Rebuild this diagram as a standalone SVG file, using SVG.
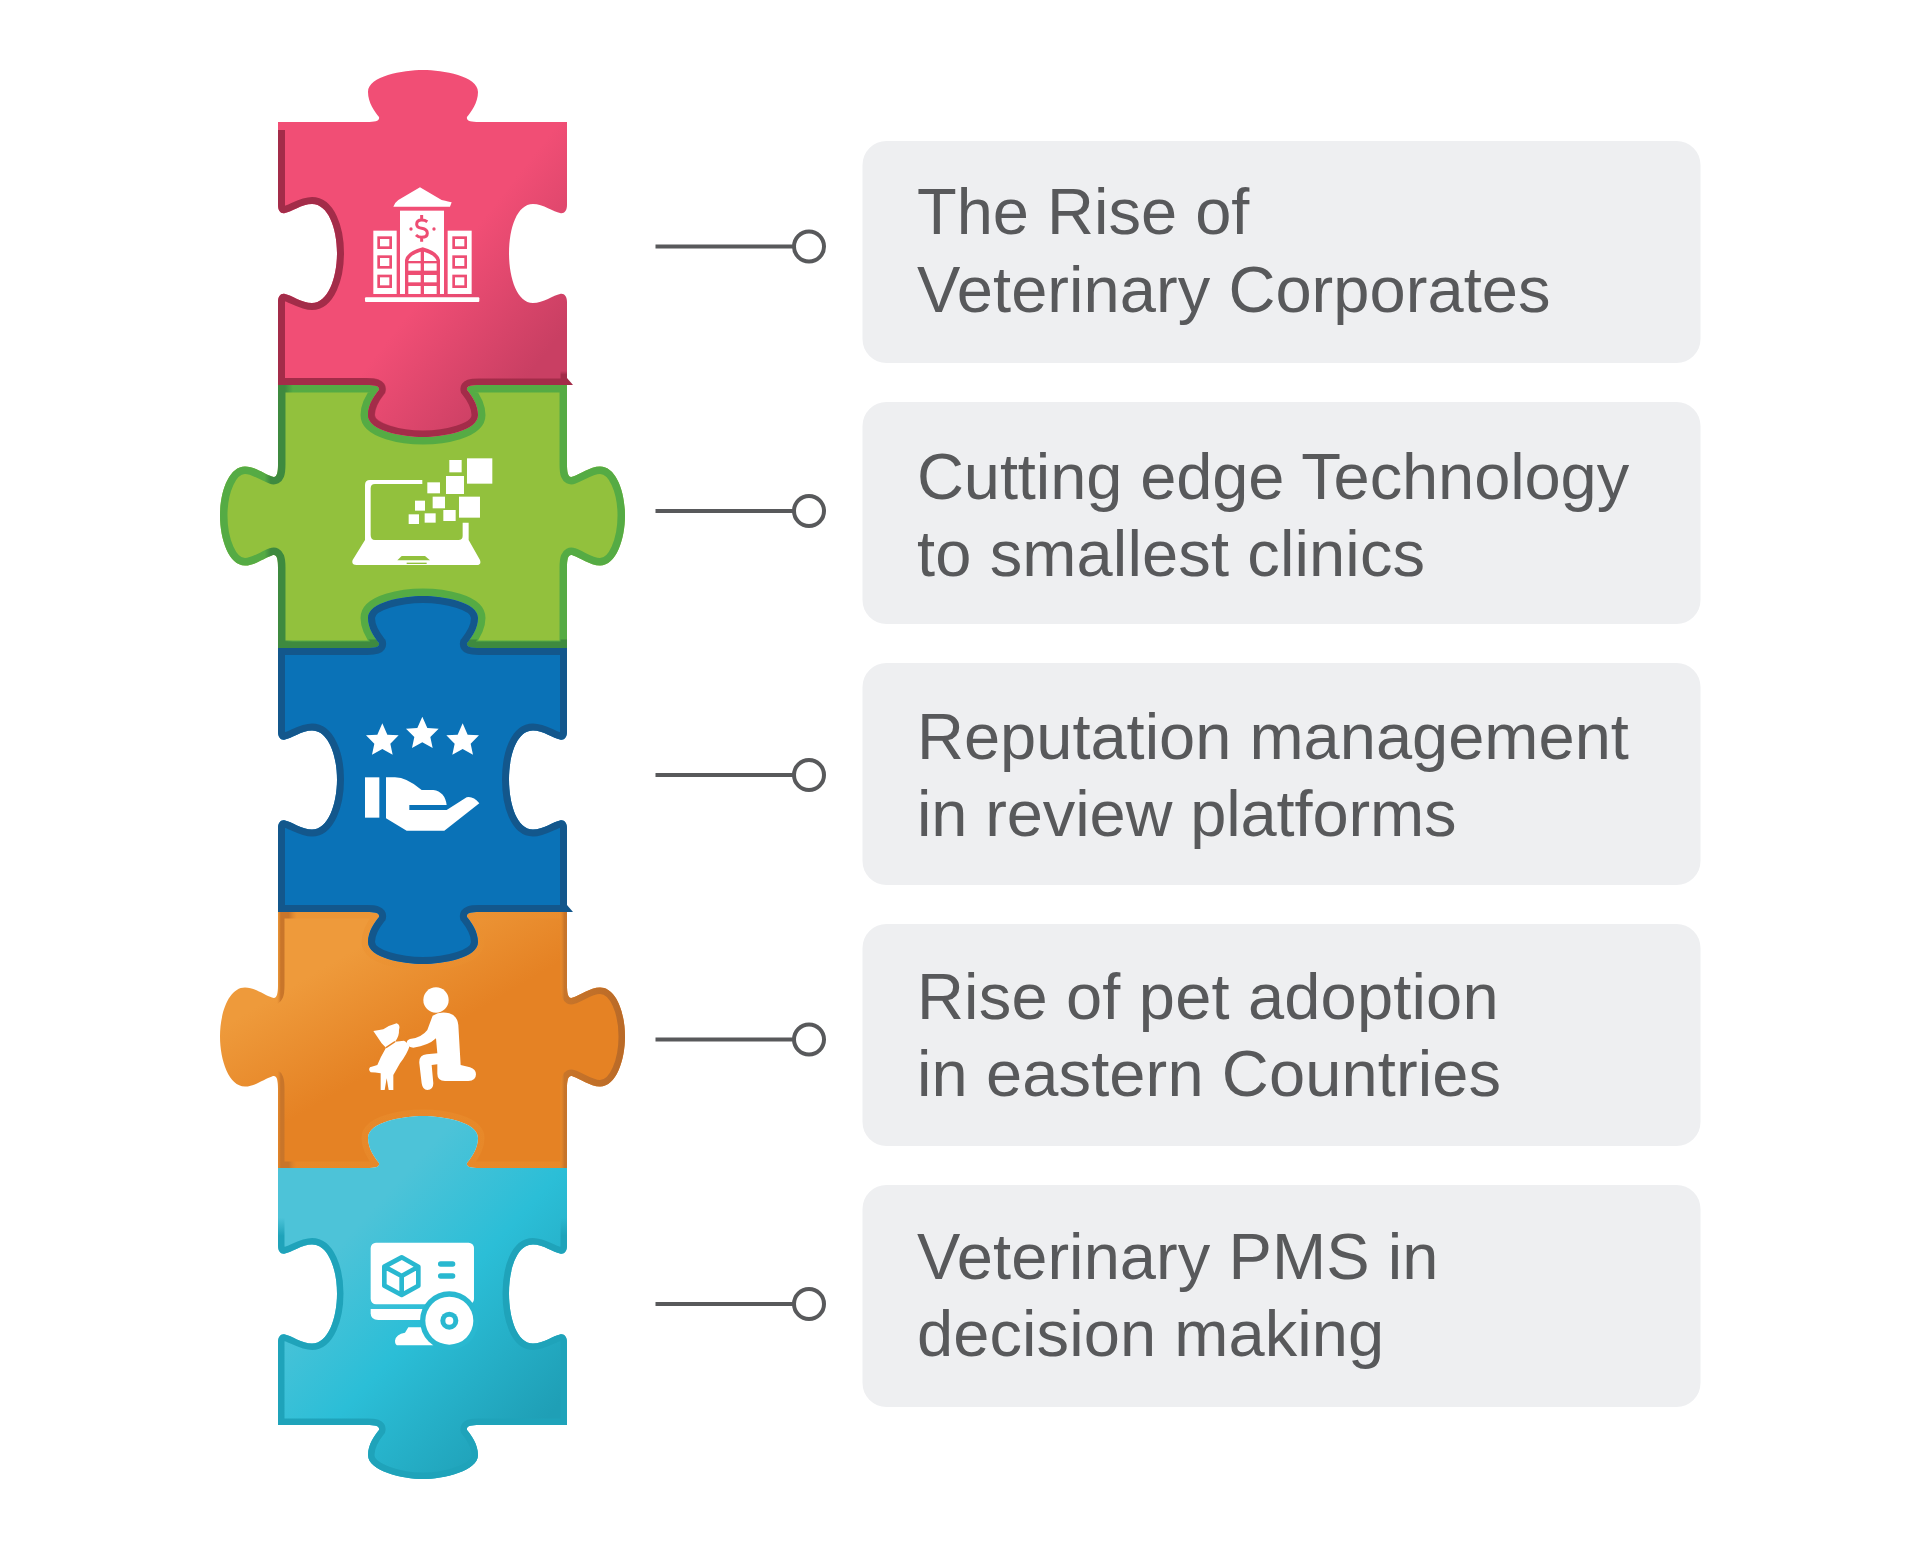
<svg xmlns="http://www.w3.org/2000/svg" width="1920" height="1548" viewBox="0 0 1920 1548">
<style>
.box{fill:#EEEFF1}
.lbl{font-family:"Liberation Sans",Arial,sans-serif;font-size:65px;fill:#58595B}
.ln{stroke:#58595B;stroke-width:4;fill:none}
.dot{stroke:#58595B;stroke-width:4;fill:#fff}
.w{fill:#fff}
</style>
<defs>
<linearGradient id="fPink" x1=".2" y1=".2" x2=".85" y2=".85"><stop offset=".55" stop-color="#F14E75"/><stop offset="1" stop-color="#C93F63"/></linearGradient>
<linearGradient id="sPinkH" x1="0" y1="0" x2="1" y2="0"><stop offset=".3" stop-color="#A32C49"/><stop offset=".42" stop-color="#A32C49" stop-opacity="0"/></linearGradient>
<linearGradient id="sPinkV" x1="0" y1="0" x2="0" y2="1"><stop offset=".82" stop-color="#A32C49" stop-opacity="0"/><stop offset=".83" stop-color="#A32C49"/></linearGradient>
<linearGradient id="sGreen" x1="0" y1="0" x2="1" y2="0"><stop offset=".11" stop-color="#55AB44"/><stop offset=".125" stop-color="#3E8A3F"/><stop offset=".16" stop-color="#3E8A3F"/><stop offset=".18" stop-color="#55AB44"/></linearGradient>
<linearGradient id="sGreenV" x1="0" y1="0" x2="0" y2="1"><stop offset=".965" stop-color="#3E8A3F" stop-opacity="0"/><stop offset=".97" stop-color="#3E8A3F"/></linearGradient>
<linearGradient id="fOrange" x1=".1" y1=".1" x2=".75" y2=".8"><stop offset=".2" stop-color="#EE9A3B"/><stop offset=".6" stop-color="#E58224"/></linearGradient>
<linearGradient id="sOrange" x1="0" y1="0" x2="1" y2="0"><stop offset=".14" stop-color="#EA9030" stop-opacity="0"/><stop offset=".15" stop-color="#C8752A"/><stop offset=".17" stop-color="#C8752A"/><stop offset=".19" stop-color="#EA9030" stop-opacity=".45"/><stop offset=".84" stop-color="#EA9030" stop-opacity=".45"/><stop offset=".85" stop-color="#C8752A"/><stop offset="1" stop-color="#B96A28"/></linearGradient>
<linearGradient id="fTeal" x1=".15" y1=".1" x2=".85" y2=".9"><stop offset=".22" stop-color="#4DC3D8"/><stop offset=".55" stop-color="#2BBED7"/><stop offset="1" stop-color="#1F9FB6"/></linearGradient>
<linearGradient id="sTeal" x1="0" y1="0" x2="0" y2="1"><stop offset=".28" stop-color="#1FA3BA" stop-opacity="0"/><stop offset=".33" stop-color="#1FA3BA"/></linearGradient>
<path id="s1" d="M278,122 H367 c8,0 13,-1 12,-5 c-4,-5 -11,-14 -11,-25 c0,-16 35,-22 55,-22 c20,0 55,6 55,22 c0,11 -7,20 -11,25 c-1,4 4,5 12,5 H567 V205 c0,6 -3,9 -7,8 c-6,-1 -17,-9 -27,-9 c-16,0 -24,24 -24,49 c0,25 8,50 24,50 c10,0 21,-8 27,-9 c4,-1 7,2 7,8 V385 H479 c-8,0 -13,1 -12,5 c4,5 11,14 11,25 c0,16 -35,22 -55,22 c-20,0 -55,-6 -55,-22 c0,-11 7,-20 11,-25 c1,-4 -4,-5 -12,-5 H278 V302 c0,-6 3,-9 7,-8 c6,1 17,9 27,9 c16,0 25,-25 25,-50 c0,-25 -9,-49 -25,-49 c-10,0 -21,8 -27,9 c-4,1 -7,-2 -7,-8 Z"/>
<path id="s2" d="M278,385 H367 c8,0 13,1 12,5 c-4,5 -11,14 -11,25 c0,16 35,22 55,22 c20,0 55,-6 55,-22 c0,-11 -7,-20 -11,-25 c-1,-4 4,-5 12,-5 H567 V464.5 c0,8 1,14 6,12 c7,-2 17,-10 27,-10 c16,0 25,25 25,49 c0,24 -9,50 -25,50 c-10,0 -20,-8 -27,-10 c-5,-2 -6,4 -6,12 V648 H479 c-8,0 -13,-1 -12,-5 c4,-5 11,-14 11,-25 c0,-16 -35,-22 -55,-22 c-20,0 -55,6 -55,22 c0,11 7,20 11,25 c1,4 -4,5 -12,5 H278 V567.5 c0,-8 -1,-14 -6,-12 c-7,2 -17,10 -27,10 c-16,0 -25,-26 -25,-50 c0,-24 9,-49 25,-49 c10,0 20,8 27,10 c5,2 6,-4 6,-12 Z"/>
<path id="s3" d="M278,648 H367 c8,0 13,-1 12,-5 c-4,-5 -11,-14 -11,-25 c0,-16 35,-22 55,-22 c20,0 55,6 55,22 c0,11 -7,20 -11,25 c-1,4 4,5 12,5 H567 V731.5 c0,6 -3,9 -7,8 c-6,-1 -17,-9 -27,-9 c-16,0 -24,24 -24,49 c0,25 8,50 24,50 c10,0 21,-8 27,-9 c4,-1 7,2 7,8 V912 H479 c-8,0 -13,1 -12,5 c4,5 11,14 11,25 c0,16 -35,22 -55,22 c-20,0 -55,-6 -55,-22 c0,-11 7,-20 11,-25 c1,-4 -4,-5 -12,-5 H278 V828.5 c0,-6 3,-9 7,-8 c6,1 17,9 27,9 c16,0 25,-25 25,-50 c0,-25 -9,-49 -25,-49 c-10,0 -21,8 -27,9 c-4,1 -7,-2 -7,-8 Z"/>
<path id="s4" d="M278,912 H367 c8,0 13,1 12,5 c-4,5 -11,14 -11,25 c0,16 35,22 55,22 c20,0 55,-6 55,-22 c0,-11 -7,-20 -11,-25 c-1,-4 4,-5 12,-5 H567 V985.5 c0,8 1,14 6,12 c7,-2 17,-10 27,-10 c16,0 25,25 25,49 c0,24 -9,50 -25,50 c-10,0 -20,-8 -27,-10 c-5,-2 -6,4 -6,12 V1168 H479 c-8,0 -13,-1 -12,-5 c4,-5 11,-14 11,-25 c0,-16 -35,-22 -55,-22 c-20,0 -55,6 -55,22 c0,11 7,20 11,25 c1,4 -4,5 -12,5 H278 V1088.5 c0,-8 -1,-14 -6,-12 c-7,2 -17,10 -27,10 c-16,0 -25,-26 -25,-50 c0,-24 9,-49 25,-49 c10,0 20,8 27,10 c5,2 6,-4 6,-12 Z"/>
<path id="s5" d="M278,1168 H367 c8,0 13,-1 12,-5 c-4,-5 -11,-14 -11,-25 c0,-16 35,-22 55,-22 c20,0 55,6 55,22 c0,11 -7,20 -11,25 c-1,4 4,5 12,5 H567 V1245.5 c0,6 -3,9 -7,8 c-6,-1 -17,-9 -27,-9 c-16,0 -24,24 -24,49 c0,25 8,50 24,50 c10,0 21,-8 27,-9 c4,-1 7,2 7,8 V1425 H479 c-8,0 -13,1 -12,5 c4,5 11,14 11,25 c0,16 -35,24 -55,24 c-20,0 -55,-8 -55,-24 c0,-11 7,-20 11,-25 c1,-4 -4,-5 -12,-5 H278 V1342.5 c0,-6 3,-9 7,-8 c6,1 17,9 27,9 c16,0 25,-25 25,-50 c0,-25 -9,-49 -25,-49 c-10,0 -21,8 -27,9 c-4,1 -7,-2 -7,-8 Z"/>
<clipPath id="c1"><use href="#s1"/></clipPath>
<clipPath id="c1b"><rect x="270" y="130" width="300" height="320"/></clipPath>
<clipPath id="c2"><use href="#s2"/></clipPath>
<clipPath id="c3"><use href="#s3"/></clipPath>
<clipPath id="c4"><use href="#s4"/></clipPath>
<clipPath id="c5"><use href="#s5"/></clipPath>
<polygon id="star" points="0,-52 15,-18 49,-16 24,9 31,42 0,25 -31,42 -24,9 -49,-16 -15,-18"/>
</defs>
<rect width="1920" height="1548" fill="#fff"/>

<g id="piece-2">
<use href="#s2" fill="#92C13D"/>
<g clip-path="url(#c2)" fill="none"><use href="#s2" stroke="url(#sGreen)" stroke-width="15"/><use href="#s2" stroke="url(#sGreenV)" stroke-width="13"/></g>
<g id="icon-laptop" transform="translate(340,450) scale(.3333)">
<path class="w" d="M75,270 V105 Q75,90 90,90 H247 V102 H105 Q92,102 92,115 V255 Q92,270 105,270 H355 Q368,270 368,258 V218 H386 V270 L420,330 Q425,345 410,345 H50 Q33,345 38,330 Z"/>
<polygon fill="#92C13D" points="185,318 255,318 270,331 172,331"/><rect x="200" y="338" width="60" height="4" fill="#92C13D"/>
<g class="w"><rect x="381" y="25" width="76" height="76"/><rect x="328" y="30" width="37" height="37"/><rect x="318" y="78" width="54" height="54"/><rect x="262" y="97" width="38" height="33"/><rect x="357" y="140" width="63" height="63"/><rect x="278" y="140" width="37" height="35"/><rect x="225" y="152" width="30" height="30"/><rect x="310" y="180" width="37" height="33"/><rect x="254" y="190" width="33" height="28"/><rect x="206" y="193" width="31" height="29"/></g>
</g>
</g>

<g id="piece-4">
<use href="#s4" fill="url(#fOrange)"/>
<g clip-path="url(#c4)" fill="none"><use href="#s4" stroke="url(#sOrange)" stroke-width="13"/></g>
<g id="icon-adoption" class="w" transform="translate(350,975) scale(.3333)">
<circle cx="258" cy="75" r="38"/>
<path d="M248,122 Q270,108 298,115 Q322,122 325,150 L332,270 L360,277 Q378,283 378,298 Q378,317 355,318 L285,318 Q262,318 262,296 L262,268 L245,270 L250,325 Q250,345 232,345 Q218,345 215,325 L208,265 Q206,240 230,238 L262,235 L258,190 Q235,212 190,218 Q175,218 170,205 Q170,195 180,192 Q215,188 232,165 Z"/>
<path d="M70,168 Q90,165 100,163 Q120,150 140,145 Q152,150 147,165 Q148,185 135,200 L162,197 Q170,200 178,215 Q172,235 150,265 L130,300 L130,345 L116,345 L110,310 L104,345 L92,345 L92,295 Q75,292 62,292 Q54,285 60,277 L82,270 Q92,245 108,218 L95,205 Q85,190 70,168 Z"/>
<path d="M108,218 L135,200" stroke="#E58224" stroke-width="4" fill="none"/>
</g>
</g>

<g id="piece-1">
<use href="#s1" fill="url(#fPink)"/>
<g clip-path="url(#c1)" fill="none"><g clip-path="url(#c1b)"><use href="#s1" stroke="url(#sPinkH)" stroke-width="14"/></g><use href="#s1" stroke="url(#sPinkV)" stroke-width="13"/></g>
<polygon points="567,378 573,385 567,385" fill="#A32C49"/>
<g id="icon-corporate" transform="translate(350,170) scale(.3333)">
<g class="w">
<path d="M130,110 Q135,97 145,90 L210,52 L275,90 Q298,95 305,97 L300,110Z"/>
<rect x="150" y="122" width="132" height="250"/><rect x="70" y="182" width="70" height="190"/><rect x="293" y="182" width="72" height="190"/><rect x="45" y="382" width="343" height="14" rx="3"/>
</g>
<path d="M165,372 V270 Q170,245 218,232 Q265,245 270,270 V372Z" fill="#EE4D73"/>
<g class="w"><path d="M175,273 Q180,255 212,245 V273Z"/><path d="M222,245 Q255,255 260,273 H222Z"/><rect x="175" y="280" width="37" height="22"/><rect x="222" y="280" width="38" height="22"/><rect x="175" y="315" width="37" height="22"/><rect x="222" y="315" width="38" height="22"/><rect x="175" y="348" width="37" height="24"/><rect x="222" y="348" width="38" height="24"/></g>
<g fill="#fff" stroke="#EE4D73" stroke-width="8"><rect x="86" y="203" width="36" height="30"/><rect x="86" y="260" width="36" height="32"/><rect x="86" y="318" width="36" height="32"/><rect x="311" y="203" width="36" height="30"/><rect x="311" y="260" width="36" height="32"/><rect x="311" y="318" width="36" height="32"/></g>
<path d="M232,155 Q225,150 215,150 Q200,150 200,163 Q200,173 215,175 Q232,178 232,190 Q232,202 215,202 Q205,202 198,195 M215,135 V148 M215,202 V215" fill="none" stroke="#EE4D73" stroke-width="9"/>
<circle cx="183" cy="177" r="5" fill="#EE4D73"/><circle cx="252" cy="177" r="5" fill="#EE4D73"/>
</g>
</g>

<g id="piece-3">
<use href="#s3" fill="#0A72B7"/>
<g clip-path="url(#c3)" fill="none"><use href="#s3" stroke="#13578C" stroke-width="14"/></g>
<polygon points="567,905 573,912 567,912" fill="#13578C"/>
<g id="icon-reputation" class="w" transform="translate(350,710) scale(.3333)">
<use href="#star" x="97" y="92"/><use href="#star" x="217" y="72"/><use href="#star" x="338" y="92"/>
<rect x="45" y="202" width="43" height="121"/>
<path d="M108,202 H135 Q170,202 215,240 H250 Q285,245 290,285 H178 V300 H290 L350,262 Q370,258 388,280 L283,362 H170 L108,325 Z"/>
</g>
</g>

<g id="piece-5">
<use href="#s5" fill="url(#fTeal)"/>
<g clip-path="url(#c5)" fill="none"><use href="#s5" stroke="url(#sTeal)" stroke-width="13"/></g>
<g id="icon-pms" transform="translate(350,1230) scale(.3333)">
<g class="w"><rect x="62" y="38" width="310" height="185" rx="16"/><path d="M62,237 H220 V270 H85 Q62,270 62,250 Z"/><path d="M145,346 Q135,346 135,332 Q138,312 165,308 L175,292 H225 L250,346Z"/></g>
<circle cx="298" cy="272" r="88" fill="#29B8D0"/><circle cx="298" cy="272" r="72" fill="#fff"/><circle cx="298" cy="272" r="27" fill="#29B8D0"/><circle cx="298" cy="272" r="12" fill="#fff"/>
<path d="M155,82 L205,110 V167 L155,195 L103,167 V110 Z M103,110 L155,138 L205,110 M155,138 V195" fill="none" stroke="#29B8D0" stroke-width="14" stroke-linejoin="round"/>
<path d="M272,102 H308 M272,138 H308" fill="none" stroke="#29B8D0" stroke-width="16" stroke-linecap="round"/>
</g>
</g>

<g id="connectors">
<line class="ln" x1="655.5" y1="246.5" x2="793" y2="246.5"/><circle class="dot" cx="809" cy="246.5" r="15"/>
<line class="ln" x1="655.5" y1="511" x2="793" y2="511"/><circle class="dot" cx="809" cy="511" r="15"/>
<line class="ln" x1="655.5" y1="775" x2="793" y2="775"/><circle class="dot" cx="809" cy="775" r="15"/>
<line class="ln" x1="655.5" y1="1039.5" x2="793" y2="1039.5"/><circle class="dot" cx="809" cy="1039.5" r="15"/>
<line class="ln" x1="655.5" y1="1304" x2="793" y2="1304"/><circle class="dot" cx="809" cy="1304" r="15"/>
</g>

<g id="label-1"><rect class="box" x="862.5" y="141" width="838" height="222" rx="24"/><text class="lbl" x="917" y="234">The Rise of</text><text class="lbl" x="917" y="311.5" letter-spacing=".06">Veterinary Corporates</text></g>
<g id="label-2"><rect class="box" x="862.5" y="402" width="838" height="222" rx="24"/><text class="lbl" x="917" y="499" letter-spacing="-.1">Cutting edge Technology</text><text class="lbl" x="917" y="576" letter-spacing=".13">to smallest clinics</text></g>
<g id="label-3"><rect class="box" x="862.5" y="663" width="838" height="222" rx="24"/><text class="lbl" x="917" y="758.5">Reputation management</text><text class="lbl" x="917" y="836" letter-spacing="-.13">in review platforms</text></g>
<g id="label-4"><rect class="box" x="862.5" y="924" width="838" height="222" rx="24"/><text class="lbl" x="917" y="1018.5" letter-spacing=".18">Rise of pet adoption</text><text class="lbl" x="917" y="1096" letter-spacing=".12">in eastern Countries</text></g>
<g id="label-5"><rect class="box" x="862.5" y="1185" width="838" height="222" rx="24"/><text class="lbl" x="917" y="1278.5" letter-spacing=".07">Veterinary PMS in</text><text class="lbl" x="917" y="1356" letter-spacing=".08">decision making</text></g>
</svg>
